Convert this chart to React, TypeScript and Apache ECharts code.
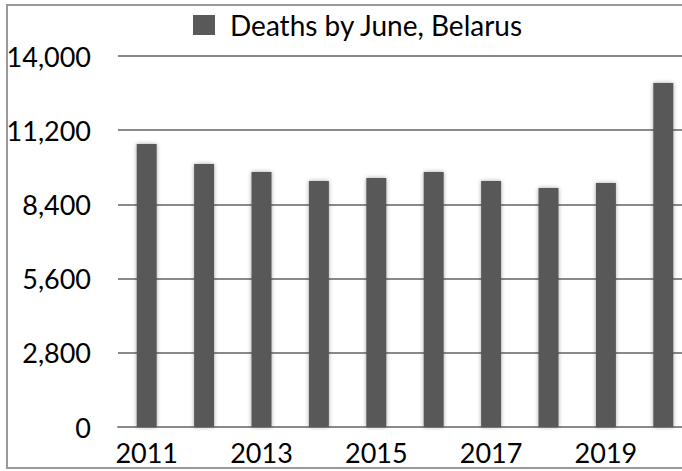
import React, { useEffect, useRef } from "react";
import * as echarts from "echarts";

const years = ["2011", "2012", "2013", "2014", "2015", "2016", "2017", "2018", "2019", "2020"];
const deaths = [10680, 9920, 9620, 9280, 9400, 9620, 9280, 9020, 9210, 12980];
const seriesName = "Deaths by June, Belarus";
const yMin = 0;
const yMax = 14000;
const yStep = 2800;

const FONT = "Lato, 'Open Sans', sans-serif";

export default function App() {
  const ref = useRef<HTMLDivElement>(null);
  useEffect(() => {
    if (!ref.current) return;
    const chart = echarts.init(ref.current, null, { renderer: "svg" });
    chart.setOption({
      animation: false,
      backgroundColor: "#fff",
      textStyle: { fontFamily: FONT },
      graphic: [
        {
          type: "rect",
          shape: { x: 7, y: 5, width: 720, height: 463 },
          style: { fill: "none", stroke: "#9a9a9a", lineWidth: 2 },
          silent: true,
        },
      ],
      legend: {
        left: 188,
        top: 6,
        itemWidth: 22,
        itemHeight: 20,
        icon: "rect",
        textStyle: { fontSize: 28, color: "#000", fontFamily: FONT, padding: [0, 0, 0, 10] },
        data: [seriesName],
      },
      grid: {
        left: 118,
        right: 0,
        top: 56,
        bottom: 44,
        containLabel: false,
        outerBoundsMode: "none",
      },
      xAxis: {
        type: "category",
        data: years,
        axisTick: { show: false },
        axisLine: { show: true, lineStyle: { color: "#8a8a8a", width: 2 } },
        axisLabel: {
          interval: 1,
          fontSize: 27,
          color: "#000",
          fontFamily: FONT,
          margin: 12,
        },
      },
      yAxis: {
        type: "value",
        min: yMin,
        max: yMax,
        interval: yStep,
        axisLine: { show: false },
        axisTick: { show: false },
        splitLine: { show: true, lineStyle: { color: "#8a8a8a", width: 2 } },
        axisLabel: {
          fontSize: 27,
          color: "#000",
          fontFamily: FONT,
          margin: 27,
          formatter: (v: number) => v.toLocaleString("en-US"),
        },
      },
      series: [
        {
          name: seriesName,
          type: "bar",
          data: deaths,
          barWidth: 20,
          itemStyle: {
            color: "#595959",
            shadowBlur: 4,
            shadowColor: "rgba(0,0,0,0.35)",
          },
        },
      ],
    });
    return () => chart.dispose();
  }, []);
  return (
    <div style={{ position: "absolute", left: 0, top: 0, width: 682, height: 471, overflow: "hidden", background: "#fff" }}>
      <div ref={ref} style={{ width: 692, height: 471 }} />
    </div>
  );
}
